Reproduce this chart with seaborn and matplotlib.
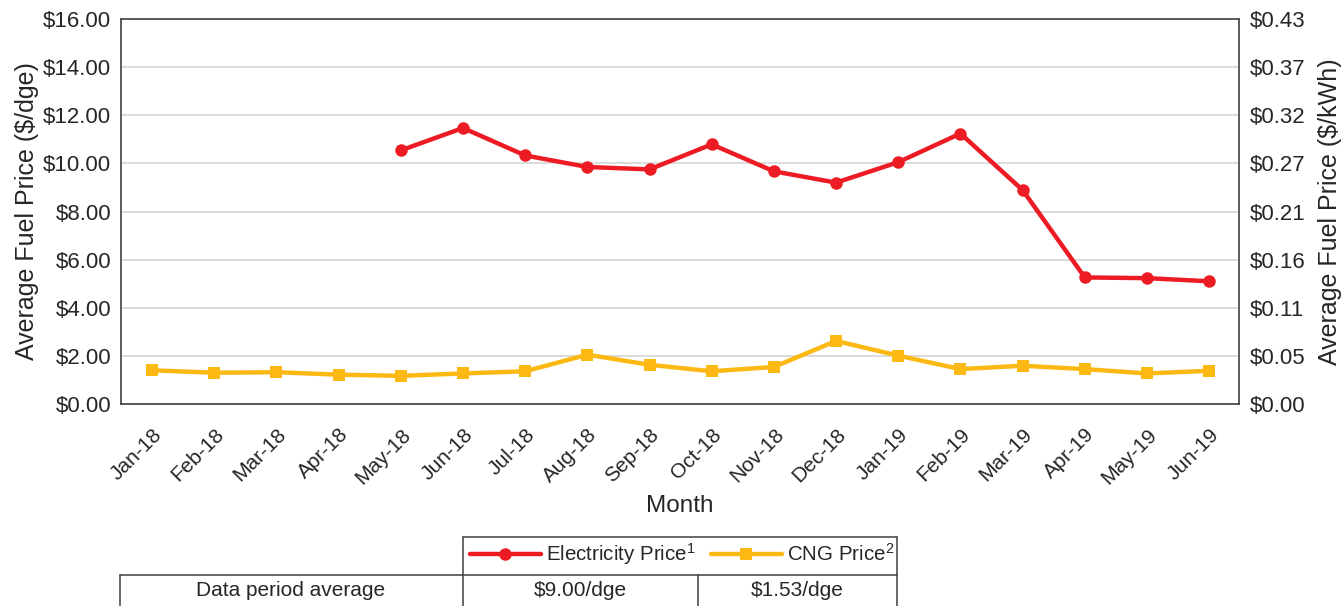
"""
Average fuel price chart: electricity vs CNG, Jan-18 to Jun-19.
"""

import numpy as np
import pandas as pd
import matplotlib

matplotlib.use("Agg")
import matplotlib.pyplot as plt
from matplotlib.lines import Line2D
import seaborn as sns

# --- data ---
months = [
    "Jan-18", "Feb-18", "Mar-18", "Apr-18", "May-18", "Jun-18",
    "Jul-18", "Aug-18", "Sep-18", "Oct-18", "Nov-18", "Dec-18",
    "Jan-19", "Feb-19", "Mar-19", "Apr-19", "May-19", "Jun-19",
]
electricity_price = [
    np.nan, np.nan, np.nan, np.nan, 10.54, 11.47,
    10.33, 9.85, 9.75, 10.79, 9.67, 9.20,
    10.05, 11.24, 8.89, 5.26, 5.23, 5.10,
]
cng_price = [
    1.40, 1.30, 1.32, 1.22, 1.17, 1.27,
    1.36, 2.05, 1.63, 1.36, 1.54, 2.62,
    2.01, 1.45, 1.59, 1.45, 1.27, 1.38,
]
left_ticks = [0, 2, 4, 6, 8, 10, 12, 14, 16]
right_tick_labels = ["$0.00", "$0.05", "$0.11", "$0.16", "$0.21",
                     "$0.27", "$0.32", "$0.37", "$0.43"]
series_labels = ["Electricity Price$^{1}$", "CNG Price$^{2}$"]
table_row_label = "Data period average"
table_values = ["$9.00/dge", "$1.53/dge"]

RED = "#ED1C24"
GOLD = "#FDB913"
TEXT = "#262626"
EDGE = "#404040"

sns.set_style("white")
plt.rcParams["font.family"] = ["Liberation Sans", "DejaVu Sans"]
plt.rcParams["text.color"] = TEXT
plt.rcParams["mathtext.fontset"] = "custom"
plt.rcParams["mathtext.rm"] = "Liberation Sans"
plt.rcParams["mathtext.default"] = "regular"

W, H = 1343, 606
fig = plt.figure(figsize=(W / 100, H / 100), dpi=100)


def px(x, y):
    """pixel (from top-left) -> figure fraction"""
    return x / W, 1 - y / H


ax_l, ax_t, ax_r, ax_b = 121, 19, 1239, 404
ax = fig.add_axes([ax_l / W, 1 - ax_b / H, (ax_r - ax_l) / W, (ax_b - ax_t) / H])

df = pd.DataFrame({"pos": np.arange(len(months)),
                   "electricity": electricity_price,
                   "cng": cng_price})

sns.lineplot(data=df, x="pos", y="electricity", ax=ax, color=RED, linewidth=3.2,
             marker="o", markersize=9, markeredgewidth=0, zorder=4)
sns.lineplot(data=df, x="pos", y="cng", ax=ax, color=GOLD, linewidth=3.2,
             marker="s", markersize=8, markeredgewidth=0, zorder=3)

ax.set_xlim(-0.5, len(months) - 1 + 0.48)
ax.set_ylim(0, 16)
ax.set_yticks(left_ticks)
ax.set_yticklabels([f"${v:.2f}" for v in left_ticks])
ax.set_xticks(df["pos"])
ax.set_xticklabels(months, rotation=45, ha="right", va="top", rotation_mode="anchor")
ax.grid(axis="y", color="#d9d9d9", linewidth=1.3)
ax.set_axisbelow(True)
for s in ax.spines.values():
    s.set_color(EDGE)
    s.set_linewidth(1.2)
ax.tick_params(axis="y", labelsize=16, colors=TEXT, length=0, pad=7)
ax.tick_params(axis="x", labelsize=15, colors=TEXT, length=0, pad=15)
ax.set_xlabel("Month", fontsize=17.5, labelpad=5)
ax.set_ylabel("Average Fuel Price ($/dge)", fontsize=18, labelpad=3)

ax2 = ax.twinx()
ax2.set_ylim(ax.get_ylim())
ax2.set_yticks(left_ticks)
ax2.set_yticklabels(right_tick_labels)
ax2.tick_params(axis="y", labelsize=16, colors=TEXT, length=0, pad=8)
ax2.set_ylabel("Average Fuel Price ($/kWh)", fontsize=18, labelpad=9)
for s in ax2.spines.values():
    s.set_visible(False)

# --- legend row + summary table below the chart ---
def hline(x0, x1, y):
    fig.add_artist(Line2D([px(x0, y)[0], px(x1, y)[0]], [px(x0, y)[1]] * 2,
                          color=EDGE, linewidth=1.1))


def vline(x, y0, y1):
    fig.add_artist(Line2D([px(x, y0)[0]] * 2, [px(x, y0)[1], px(x, y1)[1]],
                          color=EDGE, linewidth=1.1))


hline(463, 897, 537)
hline(120, 897, 575)
vline(463, 537, 606)
vline(897, 537, 606)
vline(120, 575, 606)
vline(698, 575, 606)

handles = [
    Line2D([], [], color=RED, linewidth=3.2, marker="o", markersize=9, markeredgewidth=0),
    Line2D([], [], color=GOLD, linewidth=3.2, marker="s", markersize=8, markeredgewidth=0),
]
fig.legend(handles, series_labels, loc="center", bbox_to_anchor=px(682, 554),
           ncol=2, frameon=False, fontsize=14.8, handlelength=3.45,
           handletextpad=0.25, columnspacing=0.75, borderpad=0, borderaxespad=0)

fig.text(*px(291, 590), table_row_label, ha="center", va="center", fontsize=15)
fig.text(*px(580, 590), table_values[0], ha="center", va="center", fontsize=15)
fig.text(*px(797, 590), table_values[1], ha="center", va="center", fontsize=15)

fig.savefig("out.png", dpi=100)
plt.close(fig)
